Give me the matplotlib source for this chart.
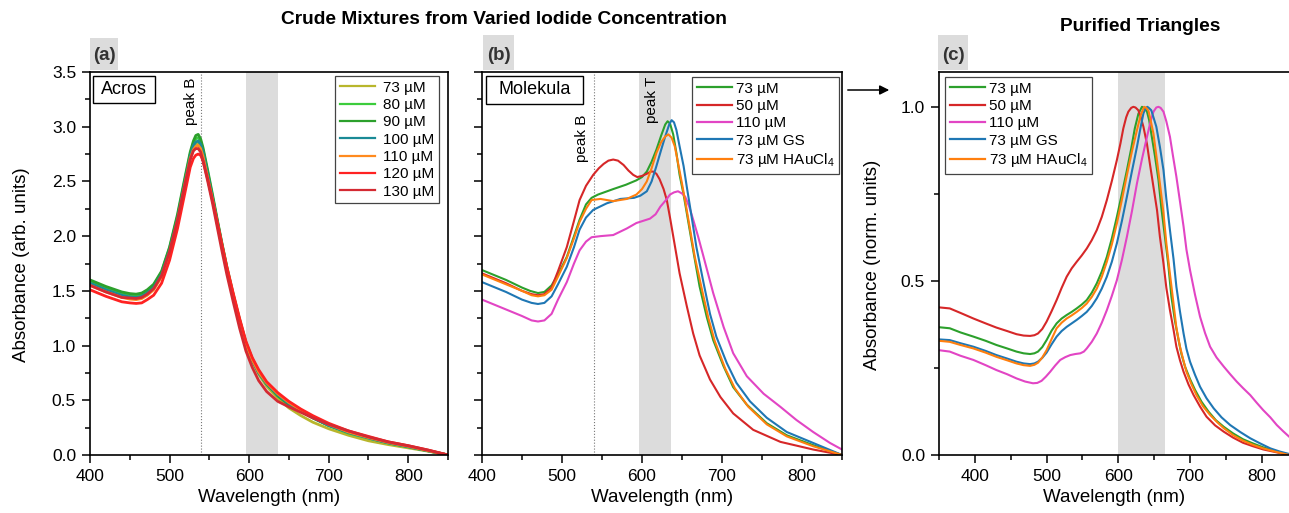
import matplotlib
matplotlib.use('Agg')
import matplotlib.pyplot as plt
from matplotlib.patches import Rectangle, FancyArrowPatch
from matplotlib.ticker import MultipleLocator

plt.rcParams['font.family'] = ['Liberation Sans', 'DejaVu Sans']
plt.rcParams['mathtext.default'] = 'regular'

# ---- panel (a): crude mixtures, Acros iodide ----
wl_a = [400, 420, 440, 450, 458, 465, 472, 480, 490, 500, 510, 520, 526, 530, 533, 536, 539, 542, 548, 554,
        560, 566, 572, 580, 588, 596, 604, 612, 622, 636, 650, 665, 680, 700, 725, 750, 775, 800, 825, 850]
abs_a_73 = [1.56, 1.50, 1.45, 1.435, 1.43, 1.44, 1.47, 1.52, 1.64, 1.86, 2.15, 2.51, 2.72, 2.81, 2.84, 2.85, 2.82, 2.75, 2.55, 2.34,
            2.12, 1.90, 1.69, 1.45, 1.22, 1.01, 0.86, 0.74, 0.63, 0.52, 0.43, 0.36, 0.30, 0.24, 0.18, 0.13, 0.095, 0.065, 0.035, 0.0]
abs_a_80 = [1.59, 1.53, 1.48, 1.465, 1.46, 1.47, 1.50, 1.55, 1.67, 1.89, 2.18, 2.54, 2.75, 2.85, 2.89, 2.90, 2.87, 2.79, 2.58, 2.36,
            2.14, 1.92, 1.71, 1.46, 1.23, 1.02, 0.87, 0.75, 0.65, 0.55, 0.47, 0.40, 0.34, 0.27, 0.20, 0.155, 0.11, 0.075, 0.038, 0.0]
abs_a_90 = [1.60, 1.54, 1.49, 1.475, 1.47, 1.48, 1.51, 1.56, 1.68, 1.90, 2.20, 2.56, 2.77, 2.87, 2.92, 2.93, 2.89, 2.81, 2.60, 2.38,
            2.15, 1.93, 1.72, 1.47, 1.24, 1.03, 0.88, 0.76, 0.65, 0.54, 0.46, 0.40, 0.34, 0.27, 0.21, 0.16, 0.115, 0.08, 0.04, 0.0]
abs_a_100 = [1.57, 1.51, 1.46, 1.445, 1.44, 1.45, 1.48, 1.53, 1.65, 1.87, 2.16, 2.52, 2.73, 2.83, 2.86, 2.87, 2.84, 2.77, 2.56, 2.35,
             2.13, 1.91, 1.70, 1.45, 1.22, 1.01, 0.86, 0.75, 0.65, 0.55, 0.47, 0.40, 0.34, 0.27, 0.205, 0.155, 0.11, 0.075, 0.038, 0.0]
abs_a_110 = [1.55, 1.49, 1.44, 1.425, 1.42, 1.43, 1.46, 1.51, 1.63, 1.85, 2.14, 2.50, 2.71, 2.79, 2.82, 2.83, 2.80, 2.73, 2.53, 2.33,
             2.11, 1.90, 1.70, 1.46, 1.23, 1.02, 0.87, 0.76, 0.66, 0.56, 0.48, 0.41, 0.35, 0.28, 0.21, 0.16, 0.115, 0.08, 0.04, 0.0]
abs_a_120 = [1.51, 1.45, 1.40, 1.39, 1.385, 1.39, 1.42, 1.46, 1.57, 1.78, 2.07, 2.42, 2.63, 2.71, 2.74, 2.75, 2.74, 2.69, 2.52, 2.33,
             2.13, 1.92, 1.72, 1.48, 1.25, 1.04, 0.89, 0.78, 0.67, 0.57, 0.49, 0.42, 0.36, 0.29, 0.22, 0.17, 0.12, 0.085, 0.045, 0.0]
abs_a_130 = [1.55, 1.49, 1.44, 1.435, 1.43, 1.44, 1.47, 1.52, 1.64, 1.86, 2.15, 2.50, 2.70, 2.78, 2.80, 2.80, 2.77, 2.69, 2.50, 2.30,
             2.08, 1.86, 1.65, 1.40, 1.16, 0.95, 0.80, 0.68, 0.58, 0.49, 0.44, 0.39, 0.34, 0.28, 0.22, 0.165, 0.12, 0.085, 0.045, 0.0]
labels_a = ['73 µM', '80 µM', '90 µM', '100 µM', '110 µM', '120 µM', '130 µM']
colors_a = ['#b8b62c', '#3ccc3c', '#2ca02c', '#1a8a96', '#ff8a1e', '#ff2222', '#d42a32']

# ---- panel (b): crude mixtures, Molekula iodide ----
wl_b_73 = [400, 430, 450, 460, 470, 478, 487, 495, 506, 515, 522, 530, 537, 545, 564, 580, 593, 600, 606, 612, 618, 624,
           629, 632, 635, 639, 643, 647, 652, 656, 664, 672, 681, 689, 702, 714, 731, 756, 781, 814, 850]
abs_b_73 = [1.69, 1.60, 1.53, 1.50, 1.48, 1.49, 1.55, 1.65, 1.81, 2.00, 2.15, 2.29, 2.35, 2.38, 2.43, 2.47, 2.51, 2.54, 2.59, 2.68, 2.79, 2.92,
            3.02, 3.05, 3.03, 2.93, 2.76, 2.56, 2.38, 2.21, 1.87, 1.54, 1.26, 1.05, 0.81, 0.62, 0.46, 0.29, 0.18, 0.09, 0.0]
wl_b_50 = [400, 430, 450, 462, 470, 478, 487, 495, 506, 515, 522, 530, 539, 546, 552, 558, 564, 570, 577, 583, 589, 594, 600,
           606, 611, 614, 618, 622, 627, 631, 635, 639, 647, 656, 664, 672, 685, 698, 714, 739, 773, 814, 850]
abs_b_50 = [1.66, 1.57, 1.50, 1.47, 1.46, 1.47, 1.53, 1.68, 1.90, 2.14, 2.33, 2.46, 2.56, 2.62, 2.66, 2.69, 2.70, 2.69, 2.65, 2.60, 2.56, 2.54, 2.55,
            2.57, 2.59, 2.59, 2.57, 2.52, 2.43, 2.33, 2.17, 2.00, 1.66, 1.36, 1.11, 0.91, 0.69, 0.53, 0.38, 0.23, 0.12, 0.05, 0.0]
wl_b_110 = [400, 430, 450, 462, 470, 478, 487, 495, 506, 515, 522, 530, 537, 548, 564, 581, 593, 610, 617, 623, 630, 635, 640,
            645, 650, 654, 659, 664, 670, 677, 689, 702, 714, 731, 752, 773, 793, 814, 835, 850]
abs_b_110 = [1.42, 1.33, 1.27, 1.23, 1.22, 1.23, 1.29, 1.42, 1.58, 1.75, 1.87, 1.95, 1.99, 2.00, 2.01, 2.07, 2.12, 2.16, 2.20, 2.27, 2.33, 2.38, 2.40,
             2.41, 2.39, 2.36, 2.27, 2.15, 2.00, 1.81, 1.48, 1.17, 0.93, 0.72, 0.56, 0.44, 0.32, 0.21, 0.11, 0.05]
wl_b_gs = [400, 430, 450, 462, 470, 478, 487, 495, 506, 515, 522, 530, 539, 556, 573, 590, 598, 606, 612, 618, 624, 629, 634,
           637, 640, 643, 647, 652, 656, 660, 668, 677, 685, 693, 706, 718, 735, 756, 781, 814, 850]
abs_b_gs = [1.58, 1.49, 1.42, 1.39, 1.38, 1.39, 1.45, 1.56, 1.72, 1.90, 2.06, 2.17, 2.24, 2.30, 2.34, 2.35, 2.37, 2.41, 2.50, 2.64, 2.79, 2.91, 3.02,
            3.06, 3.04, 2.97, 2.82, 2.64, 2.45, 2.27, 1.90, 1.57, 1.29, 1.08, 0.84, 0.66, 0.49, 0.34, 0.21, 0.11, 0.0]
wl_b_hau = [400, 430, 450, 462, 470, 478, 487, 495, 506, 515, 522, 530, 537, 548, 564, 581, 593, 600, 606, 612, 618, 624, 629,
            633, 637, 641, 645, 650, 654, 658, 666, 675, 683, 691, 704, 716, 733, 756, 781, 814, 850]
abs_b_hau = [1.65, 1.56, 1.50, 1.46, 1.45, 1.46, 1.51, 1.63, 1.80, 1.98, 2.13, 2.25, 2.33, 2.34, 2.32, 2.34, 2.38, 2.43, 2.50, 2.62, 2.76, 2.86, 2.91,
             2.93, 2.90, 2.82, 2.67, 2.48, 2.32, 2.15, 1.81, 1.51, 1.25, 1.04, 0.79, 0.61, 0.44, 0.28, 0.17, 0.08, 0.0]
labels_bc = ['73 µM', '50 µM', '110 µM', '73 µM GS', '73 µM HAuCl$_4$']
colors_bc = ['#2ca02c', '#d62728', '#e245c4', '#1f77b4', '#ff7f0e']

# ---- panel (c): purified triangles, normalised ----
wl_c_73 = [350, 365, 380, 398, 415, 430, 445, 458, 468, 477, 483, 488, 494, 500, 507, 514, 521, 528, 535, 542, 549, 556, 563,
           570, 577, 584, 591, 598, 605, 612, 618, 623, 628, 633, 637, 640, 643, 646, 651, 656, 660, 665, 670, 674, 679, 684,
           688, 693, 700, 707, 716, 726, 736, 747, 760, 774, 788, 802, 820, 838]
abs_c_73 = [0.367, 0.364, 0.352, 0.340, 0.328, 0.316, 0.306, 0.297, 0.292, 0.290, 0.292, 0.297, 0.310, 0.330, 0.357, 0.378, 0.392,
            0.402, 0.411, 0.421, 0.432, 0.445, 0.466, 0.493, 0.527, 0.569, 0.622, 0.684, 0.750, 0.818, 0.880, 0.938, 0.980, 1.0,
            0.996, 0.986, 0.962, 0.923, 0.860, 0.790, 0.710, 0.627, 0.540, 0.455, 0.385, 0.330, 0.290, 0.254, 0.218, 0.187, 0.153,
            0.124, 0.100, 0.081, 0.062, 0.045, 0.033, 0.022, 0.011, 0.0]
wl_c_50 = [350, 365, 380, 398, 415, 430, 445, 458, 468, 477, 483, 488, 494, 500, 507, 514, 521, 528, 535, 542, 549, 556, 563,
           570, 577, 584, 591, 598, 603, 607, 611, 614, 618, 621, 624, 628, 631, 635, 640, 644, 649, 654, 658, 663, 667, 672,
           677, 681, 686, 691, 698, 705, 714, 723, 735, 747, 760, 774, 788, 802, 820, 838]
abs_c_50 = [0.424, 0.421, 0.408, 0.392, 0.378, 0.366, 0.356, 0.347, 0.343, 0.342, 0.344, 0.349, 0.362, 0.383, 0.413, 0.445, 0.480,
            0.512, 0.536, 0.555, 0.573, 0.593, 0.617, 0.646, 0.684, 0.732, 0.787, 0.847, 0.895, 0.938, 0.970, 0.986, 0.997, 1.0,
            0.998, 0.990, 0.972, 0.943, 0.893, 0.837, 0.770, 0.703, 0.627, 0.550, 0.480, 0.416, 0.360, 0.311, 0.272, 0.239, 0.202,
            0.172, 0.139, 0.110, 0.085, 0.067, 0.050, 0.035, 0.025, 0.016, 0.008, 0.0]
wl_c_110 = [350, 365, 380, 398, 415, 430, 445, 458, 470, 481, 487, 493, 499, 505, 512, 519, 526, 533, 540, 547, 552, 556, 563,
            570, 577, 584, 591, 598, 605, 612, 619, 626, 633, 640, 645, 649, 653, 656, 659, 663, 667, 672, 676, 681, 686, 691,
            695, 700, 707, 714, 721, 728, 737, 747, 756, 765, 774, 784, 793, 802, 812, 821, 830, 838]
abs_c_110 = [0.301, 0.297, 0.285, 0.273, 0.258, 0.244, 0.232, 0.220, 0.211, 0.206, 0.207, 0.213, 0.225, 0.239, 0.257, 0.273, 0.281,
             0.287, 0.290, 0.292, 0.297, 0.306, 0.325, 0.349, 0.380, 0.416, 0.457, 0.502, 0.560, 0.627, 0.700, 0.780, 0.850, 0.914,
             0.958, 0.986, 0.998, 1.0, 0.997, 0.986, 0.958, 0.914, 0.862, 0.799, 0.728, 0.656, 0.590, 0.531, 0.460, 0.397, 0.350,
             0.311, 0.280, 0.254, 0.232, 0.211, 0.192, 0.172, 0.150, 0.129, 0.108, 0.086, 0.068, 0.053]
wl_c_gs = [350, 365, 380, 398, 415, 430, 445, 458, 468, 477, 483, 488, 494, 500, 507, 514, 521, 528, 535, 542, 549, 556, 563,
           570, 577, 584, 591, 598, 605, 612, 619, 626, 631, 635, 638, 640.5, 643, 646, 649, 653, 658, 663, 667, 672, 677, 681,
           686, 691, 695, 700, 707, 714, 723, 733, 744, 756, 770, 784, 798, 812, 825, 838]
abs_c_gs = [0.332, 0.330, 0.321, 0.311, 0.299, 0.287, 0.277, 0.268, 0.263, 0.261, 0.263, 0.268, 0.279, 0.294, 0.318, 0.340, 0.356,
            0.368, 0.378, 0.388, 0.399, 0.411, 0.428, 0.450, 0.478, 0.512, 0.555, 0.608, 0.672, 0.742, 0.815, 0.885, 0.940, 0.981,
            0.996, 1.0, 0.996, 0.990, 0.970, 0.943, 0.885, 0.818, 0.735, 0.646, 0.563, 0.483, 0.412, 0.349, 0.305, 0.268, 0.230,
            0.196, 0.163, 0.134, 0.108, 0.086, 0.066, 0.048, 0.033, 0.019, 0.010, 0.003]
wl_c_hau = [350, 365, 380, 398, 415, 430, 445, 458, 468, 477, 483, 488, 494, 500, 507, 514, 521, 528, 535, 542, 549, 556, 563,
            570, 577, 584, 591, 598, 605, 612, 619, 626, 631, 636, 639, 642, 645, 649, 653, 658, 663, 667, 672, 677, 681, 686,
            691, 695, 702, 709, 718, 728, 738, 747, 760, 774, 788, 802, 820, 838]
abs_c_hau = [0.328, 0.325, 0.316, 0.306, 0.294, 0.282, 0.272, 0.263, 0.258, 0.256, 0.259, 0.265, 0.280, 0.301, 0.333, 0.364, 0.380,
             0.392, 0.401, 0.411, 0.422, 0.435, 0.454, 0.478, 0.512, 0.555, 0.605, 0.665, 0.733, 0.804, 0.872, 0.933, 0.975, 1.0,
             0.997, 0.989, 0.962, 0.923, 0.860, 0.780, 0.695, 0.608, 0.520, 0.435, 0.365, 0.311, 0.270, 0.239, 0.203, 0.172, 0.140,
             0.115, 0.094, 0.077, 0.057, 0.041, 0.029, 0.019, 0.009, 0.0]

W, H = 1289, 513
fig = plt.figure(figsize=(W / 100, H / 100), dpi=100)


def px_box(l, r, t, b):
    return [l / W, 1 - b / H, (r - l) / W, (b - t) / H]


def fx(x):
    return x / W


def fy(y):
    return 1 - y / H


def style_axis(ax, xmin, xmax, ymax, ymaj, ymin):
    ax.set_xlim(xmin, xmax)
    ax.set_ylim(0, ymax)
    ax.xaxis.set_major_locator(MultipleLocator(100))
    ax.xaxis.set_minor_locator(MultipleLocator(50))
    ax.yaxis.set_major_locator(MultipleLocator(ymaj))
    ax.yaxis.set_minor_locator(MultipleLocator(ymin))
    ax.tick_params(which='both', direction='out', top=False, right=False, labelsize=12.5, width=1.1, pad=4)
    ax.tick_params(which='major', length=6)
    ax.tick_params(which='minor', length=3.5)
    for s in ax.spines.values():
        s.set_linewidth(1.2)


def add_legend(ax, anchor, hl, htp):
    leg = ax.legend(loc='upper right', bbox_to_anchor=anchor, bbox_transform=fig.transFigure,
                    fontsize=11, handlelength=hl, handletextpad=htp, labelspacing=0.22,
                    borderpad=0.3, borderaxespad=0, fancybox=False, framealpha=1, edgecolor='#444444')
    leg.get_frame().set_linewidth(0.9)
    for line in leg.get_lines():
        line.set_linewidth(1.6)
    return leg


# panel (a)
ax_a = fig.add_axes(px_box(90, 448, 72, 455))
ax_a.axvspan(596, 636, color='#dcdcdc', lw=0, zorder=0)
ax_a.axvline(540, color='#777777', ls=':', lw=0.8, zorder=1)
series_a = [abs_a_73, abs_a_80, abs_a_90, abs_a_100, abs_a_110, abs_a_120, abs_a_130]
for vals, lab, col in zip(series_a, labels_a, colors_a):
    ax_a.plot(wl_a, vals, color=col, lw=2.0, label=lab)
style_axis(ax_a, 400, 850, 3.5, 0.5, 0.25)
add_legend(ax_a, (fx(439), fy(76)), 2.3, 0.55)

# panel (b)
ax_b = fig.add_axes(px_box(482, 842, 72, 455))
ax_b.axvspan(596, 636, color='#dcdcdc', lw=0, zorder=0)
ax_b.axvline(540, color='#777777', ls=':', lw=0.8, zorder=1)
series_b = [(wl_b_73, abs_b_73), (wl_b_50, abs_b_50), (wl_b_110, abs_b_110), (wl_b_gs, abs_b_gs), (wl_b_hau, abs_b_hau)]
for (w, v), lab, col in zip(series_b, labels_bc, colors_bc):
    ax_b.plot(w, v, color=col, lw=1.5, label=lab)
style_axis(ax_b, 400, 850, 3.5, 0.5, 0.25)
ax_b.tick_params(axis='y', labelleft=False)
add_legend(ax_b, (fx(839), fy(77)), 2.3, 0.25)

# panel (c)
ax_c = fig.add_axes(px_box(939, 1289, 72, 455))
ax_c.axvspan(600, 665, color='#dcdcdc', lw=0, zorder=0)
series_c = [(wl_c_73, abs_c_73), (wl_c_50, abs_c_50), (wl_c_110, abs_c_110), (wl_c_gs, abs_c_gs), (wl_c_hau, abs_c_hau)]
for (w, v), lab, col in zip(series_c, labels_bc, colors_bc):
    ax_c.plot(w, v, color=col, lw=1.5, label=lab)
style_axis(ax_c, 350, 838, 1.1, 0.5, 0.25)
ax_c.spines['right'].set_visible(False)
add_legend(ax_c, (fx(1092), fy(77)), 2.3, 0.25)

# name boxes
for (l, r, t, b), name in [((93, 155, 76, 103), 'Acros'), ((486, 583, 76, 104), 'Molekula')]:
    fig.add_artist(Rectangle((fx(l), fy(b)), (r - l) / W, (b - t) / H, transform=fig.transFigure,
                             facecolor='white', edgecolor='black', lw=1.0, zorder=5))
    fig.text(fx((l + r) / 2), fy((t + b) / 2), name, ha='center', va='center', fontsize=13, zorder=6)

# peak annotations
fig.text(fx(191), fy(78), 'peak B', rotation=90, ha='center', va='top', fontsize=11)
fig.text(fx(582), fy(115), 'peak B', rotation=90, ha='center', va='top', fontsize=11)
fig.text(fx(652), fy(77), 'peak T', rotation=90, ha='center', va='top', fontsize=11)

# panel letters
for (l, r, t), letter in [((90, 118, 38), '(a)'), ((483, 514, 35), '(b)'), ((938, 968, 35), '(c)')]:
    fig.add_artist(Rectangle((fx(l), fy(70)), (r - l) / W, (70 - t) / H, transform=fig.transFigure,
                             facecolor='#dcdcdc', edgecolor='none'))
    fig.text(fx((l + r) / 2), fy(56), letter, ha='center', va='center', fontsize=13.5, fontweight='bold', color='#333333')

# titles
fig.text(fx(504), fy(20), 'Crude Mixtures from Varied Iodide Concentration', ha='center', va='center',
         fontsize=13.8, fontweight='bold')
fig.text(fx(1140), fy(27), 'Purified Triangles', ha='center', va='center', fontsize=13.8, fontweight='bold')

# arrow between panels
fig.add_artist(FancyArrowPatch((fx(845), fy(90)), (fx(892), fy(90)), transform=fig.transFigure,
                               arrowstyle='-|>', mutation_scale=14, lw=1.1, color='black'))

# axis labels
fig.text(fx(22), fy(265), 'Absorbance (arb. units)', rotation=90, ha='center', va='center', fontsize=13.5)
fig.text(fx(872), fy(265), 'Absorbance (norm. units)', rotation=90, ha='center', va='center', fontsize=13.5)
for cx in [269, 662, 1114]:
    fig.text(fx(cx), fy(498), 'Wavelength (nm)', ha='center', va='center', fontsize=13.5)

fig.savefig('out.png', dpi=100)
